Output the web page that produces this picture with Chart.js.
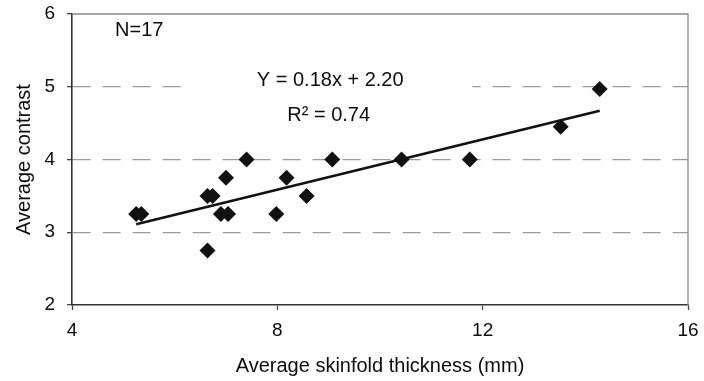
<!DOCTYPE html>
<html><head><meta charset="utf-8">
<script src="https://cdn.jsdelivr.net/npm/chart.js@4/dist/chart.umd.min.js"></script>
<style>html,body{margin:0;padding:0;background:#fff}#wrap{width:704px;height:381px}</style>
</head><body><div id="wrap"><canvas id="c" width="704" height="381"></canvas></div>
<script>
const skinfold = [5.25, 5.35, 6.64, 6.74, 6.64, 6.90, 7.04, 7.98, 8.57, 7.40, 7.00, 8.18, 9.07, 10.42, 11.75, 13.52, 14.28];
const contrast = [3.25, 3.25, 3.50, 3.50, 2.75, 3.25, 3.25, 3.25, 3.50, 4.00, 3.75, 3.75, 4.00, 4.00, 4.00, 4.45, 4.97];
const trendX = [5.25, 14.28];
const trendY = [3.11, 4.67];
const xTicks = [4, 8, 12, 16];
const yTicks = [2, 3, 4, 5, 6];
const xTitle = 'Average skinfold thickness (mm)';
const yTitle = 'Average contrast';
const nLabel = 'N=17';
const eqLabel = 'Y = 0.18x + 2.20';
const r2Label = 'R² = 0.74';

const FONT = "'Liberation Sans', Arial, sans-serif";
const TXT = '#0d0d0d';

const extras = {
  id: 'extras',
  beforeDatasetsDraw(chart) {
    const {ctx, chartArea: a, scales: {x, y}} = chart;
    ctx.save();
    ctx.strokeStyle = '#8a8a8a';
    ctx.lineWidth = 1.3;
    ctx.beginPath();
    ctx.moveTo(a.left, a.top); ctx.lineTo(a.right, a.top); ctx.lineTo(a.right, a.bottom);
    ctx.stroke();
    ctx.fillStyle = '#fff';
    const bx0 = x.getPixelForValue(6.27), bx1 = x.getPixelForValue(11.8);
    const by0 = y.getPixelForValue(5.35), by1 = y.getPixelForValue(4.35);
    ctx.fillRect(bx0, by0, bx1 - bx0, by1 - by0);
    ctx.fillStyle = TXT;
    ctx.font = '20px ' + FONT;
    ctx.textBaseline = 'middle';
    ctx.textAlign = 'left';
    ctx.fillText(nLabel, x.getPixelForValue(4.84), y.getPixelForValue(5.77));
    ctx.textAlign = 'center';
    ctx.fillText(eqLabel, x.getPixelForValue(9.03), y.getPixelForValue(5.09));
    ctx.fillText(r2Label, x.getPixelForValue(9.0), y.getPixelForValue(4.61));
    ctx.restore();
  }
};

new Chart(document.getElementById('c'), {
  type: 'scatter',
  data: {
    datasets: [
      {
        label: 'data',
        data: skinfold.map((v, i) => ({x: v, y: contrast[i]})),
        pointStyle: 'rectRot',
        pointRadius: 8,
        pointHoverRadius: 8,
        backgroundColor: '#111',
        borderColor: '#111',
        borderWidth: 0
      },
      {
        type: 'line',
        label: 'trend',
        data: trendX.map((v, i) => ({x: v, y: trendY[i]})),
        borderColor: '#111',
        borderWidth: 2.6,
        pointRadius: 0,
        fill: false
      }
    ]
  },
  plugins: [extras],
  options: {
    responsive: false,
    animation: false,
    devicePixelRatio: 1,
    layout: {padding: {top: 14, right: 16, left: 0, bottom: 0}},
    plugins: {legend: {display: false}, tooltip: {enabled: false}},
    scales: {
      x: {
        type: 'linear',
        min: 4, max: 16,
        afterBuildTicks: s => { s.ticks = xTicks.map(v => ({value: v})); },
        afterFit: s => { s.height = 76; s.paddingLeft = 0; s.paddingRight = 0; },
        ticks: {color: TXT, font: {family: FONT, size: 19}, padding: 9, maxRotation: 0},
        grid: {drawOnChartArea: false, tickLength: 5, tickColor: '#444', tickWidth: 1.3},
        border: {color: '#333', width: 1.6},
        title: {display: true, text: xTitle, color: TXT, font: {family: FONT, size: 20}, padding: {top: 0, bottom: 3}}
      },
      y: {
        type: 'linear',
        min: 2, max: 6,
        afterBuildTicks: s => { s.ticks = yTicks.map(v => ({value: v})); },
        afterFit: s => { s.width = 72; s.paddingTop = 0; s.paddingBottom = 0; },
        ticks: {color: TXT, font: {family: FONT, size: 19}, padding: 12},
        grid: {
          tickLength: 5,
          tickColor: '#444',
          tickWidth: 1.3,
          lineWidth: 1.3,
          color: c => (c.tick && c.tick.value > 2 && c.tick.value < 6) ? '#9a9a9a' : 'rgba(0,0,0,0)'
        },
        border: {color: '#333', width: 1.6, dash: [18, 12]},
        title: {display: true, text: yTitle, color: TXT, font: {family: FONT, size: 20}, padding: {top: 12, bottom: 0}}
      }
    }
  }
});
</script>
</body></html>
